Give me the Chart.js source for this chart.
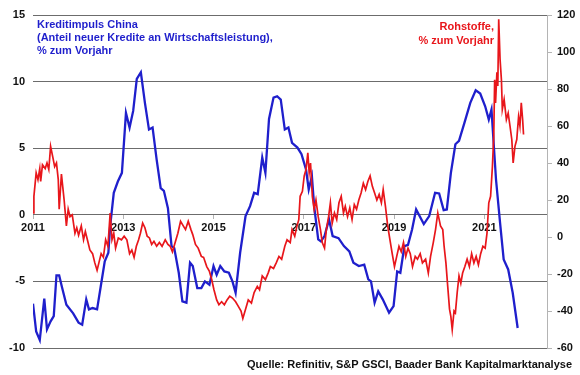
<!DOCTYPE html>
<html>
<head>
<meta charset="utf-8">
<script src="https://cdn.jsdelivr.net/npm/chart.js@4.4.1/dist/chart.umd.min.js"></script>
<style>
  html, body { margin: 0; padding: 0; background: #fff; }
  #wrap { width: 580px; height: 375px; }
</style>
</head>
<body>
<div id="wrap"><canvas id="chart" width="580" height="375"></canvas></div>
<script>
// x axis labels (only odd years are shown)
const yearTicks = [2011, 2013, 2015, 2017, 2019, 2021];

// Kreditimpuls China, left axis (%)
const creditDates = [
  2011.00, 2011.07, 2011.15, 2011.25, 2011.31, 2011.39, 2011.46, 2011.52, 2011.58, 2011.64, 2011.74, 2011.89,
  2012.01, 2012.09, 2012.18, 2012.24, 2012.32, 2012.42, 2012.50, 2012.59, 2012.67, 2012.71, 2012.79, 2012.88, 2012.97,
  2013.06, 2013.14, 2013.22, 2013.30, 2013.39, 2013.48, 2013.57, 2013.65, 2013.74, 2013.83, 2013.90, 2013.99,
  2014.07, 2014.13, 2014.23, 2014.31, 2014.40, 2014.48, 2014.54, 2014.64, 2014.73, 2014.81, 2014.91,
  2015.00, 2015.07, 2015.15, 2015.24, 2015.34, 2015.42, 2015.49, 2015.59, 2015.71, 2015.81, 2015.90, 2015.98,
  2016.08, 2016.15, 2016.23, 2016.33, 2016.41, 2016.49, 2016.58, 2016.66, 2016.74, 2016.86, 2016.95,
  2017.05, 2017.11, 2017.18, 2017.23, 2017.32, 2017.38, 2017.46, 2017.56, 2017.64, 2017.77, 2017.89,
  2018.01, 2018.10, 2018.22, 2018.34, 2018.43, 2018.49, 2018.57, 2018.65, 2018.75, 2018.89, 2018.99,
  2019.07, 2019.14, 2019.23, 2019.31, 2019.40, 2019.49, 2019.66, 2019.78, 2019.91,
  2020.00, 2020.10, 2020.17, 2020.26, 2020.36, 2020.44, 2020.56, 2020.69, 2020.81, 2020.91,
  2021.02, 2021.10, 2021.16, 2021.26, 2021.35, 2021.43, 2021.53, 2021.63, 2021.74
];
const creditValues = [
  -6.67, -8.75, -9.4, -6.3, -8.6, -8.0, -7.6, -4.55, -4.55, -5.4, -6.75, -7.4,
  -8.1, -8.25, -6.35, -7.1, -7.0, -7.1, -5.4, -3.5, -2.85, -0.85, 1.65, 2.5, 3.15,
  7.65, 6.55, 7.8, 10.2, 10.7, 8.4, 6.4, 6.55, 4.15, 2.0, 1.8, 0.5,
  -2.35, -2.5, -4.35, -6.5, -6.6, -3.6, -3.85, -5.5, -5.5, -5.0, -5.25,
  -3.85, -4.5, -3.85, -4.25, -4.35, -5.0, -5.85, -2.85, -0.1, 0.65, 1.65, 1.55,
  4.3, 3.15, 7.2, 8.8, 8.9, 8.65, 6.4, 6.55, 5.4, 5.05, 4.55,
  3.4, 1.9, 2.9, 0.65, -1.85, -2.0, -1.6, -0.35, -1.6, -1.75, -2.35,
  -2.75, -3.6, -3.85, -3.75, -4.85, -5.0, -6.6, -5.75, -6.35, -7.35, -6.85,
  -4.25, -4.35, -2.35, -2.25, -1.1, 0.4, -0.7, -0.1, 1.65,
  1.6, 0.35, 0.4, 3.15, 5.3, 5.55, 6.9, 8.4, 9.35, 9.1,
  8.15, 7.15, 7.9, 2.65, -0.6, -3.35, -4.1, -5.85, -8.5
];

// Rohstoffe (S&P GSCI), right axis (% yoy)
const commodDates = [
  2011.00, 2011.02, 2011.07, 2011.11, 2011.15, 2011.17, 2011.21, 2011.27, 2011.31, 2011.35, 2011.39, 2011.44, 2011.48,
  2011.52, 2011.56, 2011.58, 2011.63, 2011.66, 2011.69, 2011.74, 2011.78, 2011.82, 2011.87, 2011.93, 2011.97,
  2012.01, 2012.07, 2012.12, 2012.16, 2012.22, 2012.26, 2012.32, 2012.37, 2012.42, 2012.46,
  2012.51, 2012.56, 2012.61, 2012.66, 2012.71, 2012.75, 2012.79, 2012.83, 2012.89, 2012.96,
  2013.02, 2013.08, 2013.14, 2013.19, 2013.24, 2013.29, 2013.34, 2013.38, 2013.43, 2013.48,
  2013.53, 2013.58, 2013.63, 2013.68, 2013.74, 2013.80, 2013.86, 2013.93, 2013.99,
  2014.04, 2014.09, 2014.15, 2014.21, 2014.27, 2014.33, 2014.38, 2014.44, 2014.50,
  2014.54, 2014.60, 2014.66, 2014.73, 2014.78, 2014.85, 2014.91, 2014.96,
  2015.01, 2015.07, 2015.12, 2015.18, 2015.24, 2015.30, 2015.36, 2015.42, 2015.49,
  2015.55, 2015.61, 2015.65, 2015.71, 2015.77, 2015.84, 2015.90, 2015.97,
  2016.02, 2016.08, 2016.15, 2016.21, 2016.26, 2016.33, 2016.39, 2016.45, 2016.51,
  2016.58, 2016.63, 2016.70, 2016.74, 2016.80, 2016.85, 2016.89, 2016.92, 2016.97,
  2017.01, 2017.05, 2017.09, 2017.12, 2017.15, 2017.19, 2017.23, 2017.27, 2017.32, 2017.37, 2017.41, 2017.46,
  2017.50, 2017.55, 2017.59, 2017.63, 2017.68, 2017.73, 2017.78, 2017.83, 2017.88, 2017.92, 2017.97,
  2018.02, 2018.07, 2018.12, 2018.17, 2018.22, 2018.27, 2018.32, 2018.37, 2018.42, 2018.47,
  2018.52, 2018.57, 2018.62, 2018.67, 2018.72, 2018.76, 2018.81, 2018.86, 2018.91, 2018.96,
  2019.01, 2019.06, 2019.11, 2019.16, 2019.21, 2019.26, 2019.31, 2019.36, 2019.41, 2019.47,
  2019.52, 2019.58, 2019.63, 2019.70, 2019.76, 2019.81, 2019.87, 2019.92, 2019.97,
  2020.03, 2020.08, 2020.11, 2020.15, 2020.19, 2020.23, 2020.26, 2020.29, 2020.33, 2020.36, 2020.40, 2020.44,
  2020.48, 2020.52, 2020.57, 2020.62, 2020.67, 2020.72, 2020.77, 2020.82, 2020.87, 2020.92, 2020.97,
  2021.02, 2021.06, 2021.10, 2021.14, 2021.18, 2021.21, 2021.23, 2021.25, 2021.28, 2021.30, 2021.32, 2021.35, 2021.38, 2021.40,
  2021.44, 2021.49, 2021.53, 2021.57, 2021.61, 2021.64, 2021.68, 2021.72, 2021.76, 2021.79, 2021.82, 2021.85, 2021.87
];
const commodValues = [
  13, 22, 34.7, 31, 37, 30, 39, 37, 40, 36.5, 49, 43, 38,
  40, 31, 15, 34, 27, 20, 6, 15, 11, 12, 2, 5,
  1, 6, -1.5, 3, -3, -7, -9, -14, -18, -14,
  -9, -11, -1.5, -5, 13, -1.5, 2, -6, -0.5, -1.5,
  0.4, -1.5, -9, -7, -11, -5, -1.5, 2, 7.5, 5,
  0.4, -0.5, -4, -2.3, -5, -3, -5, -1.5, -4,
  -5, -8, -3, 2, 8.5, 6, 4, 8.5, 4,
  1.3, -4, -6, -10.5, -11, -16, -18.6, -23,
  -28.5, -34, -36.6, -35, -36.6, -34, -32, -33, -35,
  -37.5, -40, -44, -39, -34, -35.7, -30, -26.7,
  -28.5, -21, -23, -19.5, -16, -17, -14, -10.5, -12,
  -5, -1.5, -3, 4, 0.4, 6, 9.4, 22, 24.7,
  33, 36.5, 45.5, 34.7, 40, 22, 15, 20, 11, 4, -3, -6,
  4, 11, 18.5, 7.5, 13, 9.4, 18.5, 22, 13, 16.6, 11,
  15.7, 9.4, 17.5, 15, 20, 23.8, 29, 25.6, 30, 33,
  27.4, 23.8, 20, 23, 18.5, 25.6, 16.6, 6, -1.5, -9,
  -16, -10.5, -5, -8, -3, -10.5, -6, -9, -16, -10.5,
  -12, -9, -14, -12, -19.5, -10.5, -3, 4, 13,
  6, 4, -5, -14, -26.7, -39, -43, -50, -40, -41, -30, -21,
  -25, -19.5, -16, -12, -16, -9, -14, -10.5, -15, -9, -5,
  -6, 2, 18.5, 22, 38, 54.5, 85, 72.5, 89, 81.6, 117.7, 96, 85, 69,
  74.4, 63.5, 67, 60, 52.7, 40, 49, 52.7, 65, 60, 72.5, 63.5, 55.4
];

const creditNote = ['Kreditimpuls China', '(Anteil neuer Kredite an Wirtschaftsleistung),', '% zum Vorjahr'];
const commodNote = ['Rohstoffe,', '% zum Vorjahr'];
const sourceNote = 'Quelle: Refinitiv, S&P GSCI, Baader Bank Kapitalmarktanalyse';

const blue = '#1f1fcc';
const red = '#e8161b';
const gridGray = '#6c6c6c';
const axisGray = '#b4b4b4';
const fontFamily = '"Liberation Sans", Arial, sans-serif';

Chart.defaults.font.family = fontFamily;
Chart.defaults.font.size = 11;
Chart.defaults.font.weight = 'bold';
Chart.defaults.color = '#111';

const notes = {
  id: 'notes',
  afterDraw(chart) {
    const c = chart.ctx;
    c.save();
    c.font = 'bold 11px ' + fontFamily;
    c.textBaseline = 'middle';
    c.textAlign = 'left';
    c.fillStyle = blue;
    creditNote.forEach((t, i) => c.fillText(t, 37, 25 + i * 13));
    c.textAlign = 'right';
    c.fillStyle = red;
    commodNote.forEach((t, i) => c.fillText(t, 494, 27 + i * 13.5));
    c.fillStyle = '#111';
    c.fillText(sourceNote, 572, 365);
    c.restore();
  }
};

new Chart(document.getElementById('chart'), {
  type: 'line',
  data: {
    datasets: [
      {
        label: 'Rohstoffe',
        data: commodDates.map((d, i) => ({ x: d, y: commodValues[i] })),
        yAxisID: 'y1',
        borderColor: red,
        borderWidth: 1.7,
        pointRadius: 0,
        tension: 0,
        order: 0
      },
      {
        label: 'Kreditimpuls China',
        data: creditDates.map((d, i) => ({ x: d, y: creditValues[i] })),
        yAxisID: 'y',
        borderColor: blue,
        borderWidth: 2.3,
        pointRadius: 0,
        tension: 0,
        order: 1
      }
    ]
  },
  options: {
    responsive: false,
    animation: false,
    events: [],
    layout: { padding: { top: 15, bottom: 27, left: 0, right: 0 } },
    plugins: { legend: { display: false }, tooltip: { enabled: false } },
    scales: {
      x: {
        type: 'linear',
        position: { y: 0 },
        min: 2011,
        max: 2022.39,
        afterBuildTicks: s => { s.ticks = yearTicks.map(v => ({ value: v })); },
        ticks: { callback: v => String(v), padding: 3, maxRotation: 0, autoSkip: false },
        grid: { drawOnChartArea: false, drawTicks: true, tickLength: 4, color: axisGray },
        border: { display: false }
      },
      y: {
        position: 'left',
        min: -10,
        max: 15,
        ticks: { stepSize: 5, padding: 8 },
        grid: { color: gridGray, drawTicks: false },
        border: { display: false },
        afterFit: s => { s.width = 33; }
      },
      y1: {
        position: 'right',
        min: -60,
        max: 120,
        ticks: { stepSize: 20, padding: 5 },
        grid: { drawOnChartArea: false, tickLength: 5, color: axisGray },
        border: { display: true, color: axisGray },
        afterFit: s => { s.width = 33; }
      }
    }
  },
  plugins: [notes]
});
</script>
</body>
</html>
